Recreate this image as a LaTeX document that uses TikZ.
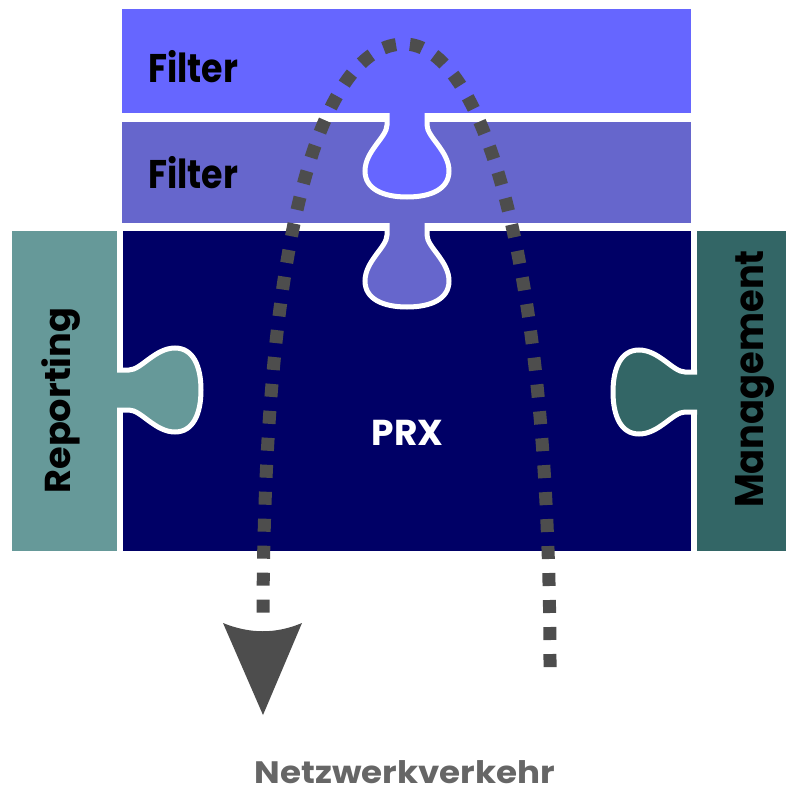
\documentclass[tikz,border=0pt]{standalone}
\usepackage{fontspec}
\setmainfont{Poppins}

\definecolor{filtertop}{HTML}{6666FF}
\definecolor{filtermid}{HTML}{6666CC}
\definecolor{prxcol}{HTML}{000066}
\definecolor{repcol}{HTML}{669999}
\definecolor{mgmtcol}{HTML}{336666}
\definecolor{flowcol}{HTML}{4D4D4D}
\definecolor{captioncol}{HTML}{666666}

\tikzset{
  label/.style={inner sep=0pt, font=\bfseries},
  flow/.style={draw=flowcol, line width=13pt, dash pattern=on 13pt off 14pt},
  knobshape/.style={insert path={
      -- (-20,12)
      .. controls (-20,24) and (-42,38) .. (-42,58)
      .. controls (-42,76) and (-24,84) .. (0,84)
      .. controls (24,84) and (42,76) .. (42,58)
      .. controls (42,38) and (20,24) .. (20,12)}},
  % puzzle tab: neck at the origin, bulb pointing along +y
  knob/.pic={
    \fill[#1] (-20,-5) [knobshape] -- (20,-5) -- cycle;
    \draw[white, line width=5pt] (-20,0) [knobshape] -- (20,0);
  }
}

\begin{document}
\begin{tikzpicture}[x=1pt, y=-1pt]
\useasboundingbox (0,0) rectangle (792,792);

% blocks
\fill[filtertop] (122,9) rectangle (691,113);
\fill[filtermid] (122,122) rectangle (691,223);
\fill[prxcol] (123,231) rectangle (691,551);
\fill[repcol] (12,231) rectangle (117,551);
\fill[mgmtcol] (697,231) rectangle (786,551);

% tabs
\pic at (407,113) {knob=filtertop};
\pic at (407,223) {knob=filtermid};
\pic[rotate=90] at (117,390) {knob=repcol};
\pic[rotate=-90] at (697,392) {knob=mgmtcol};

% labels
\node[label, anchor=base west, font=\fontsize{40}{40}\selectfont\bfseries] (f1) at (148,82) {\scalebox{0.87}[1]{Filter}};
\node[label, anchor=base west, font=\fontsize{40}{40}\selectfont\bfseries] (f2) at (148,188) {\scalebox{0.87}[1]{Filter}};
\node[label, anchor=base, text=white, font=\fontsize{36}{36}\selectfont\bfseries] (prx) at (407.5,445) {PRX};
\node[label, anchor=base, rotate=90, font=\fontsize{36}{36}\selectfont\bfseries] (rep) at (70,400.5) {\scalebox{1.02}[1]{Reporting}};
\node[label, anchor=base, rotate=90, font=\fontsize{40}{40}\selectfont\bfseries] (mgmt) at (763,379) {\scalebox{0.92}[1]{Management}};
\node[label, anchor=base, text=captioncol, font=\fontsize{31}{31}\selectfont\bfseries] (net) at (405,783) {\scalebox{1.1}[1]{Netzwerkverkehr}};

% traffic path
\coordinate (in) at (550,667);
\coordinate (apex) at (404,44);
\coordinate (out) at (263,616);
\coordinate (tipL) at (223,623);
\coordinate (tipR) at (302,623);
\coordinate (tip) at (263,715);
\draw[flow] (in) .. controls (550,250) and (480,44) .. (apex)
  .. controls (330,44) and (264,200) .. (out);
\fill[flowcol] (tipL) .. controls (250,634) and (276,634) .. (tipR) -- (tip) -- cycle;
\end{tikzpicture}
\end{document}
